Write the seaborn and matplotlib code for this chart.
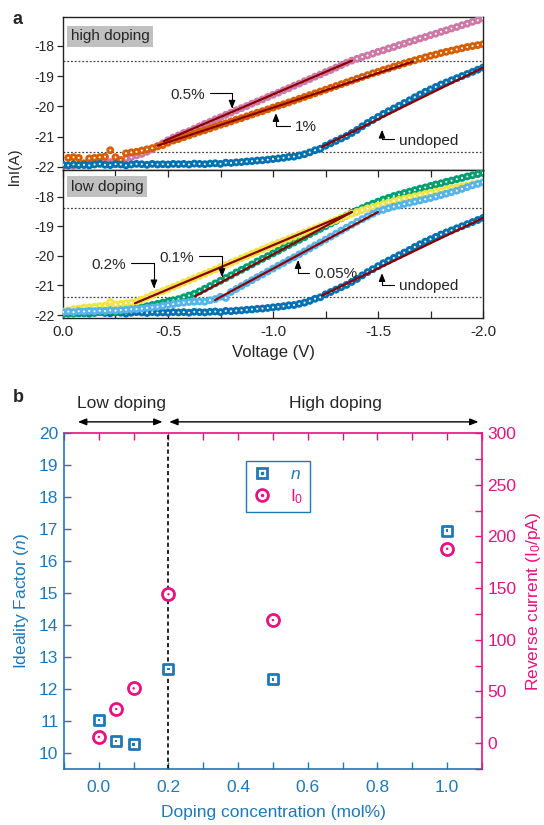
import numpy as np
import pandas as pd
import matplotlib
matplotlib.use('Agg')
import matplotlib.pyplot as plt
import seaborn as sns
from matplotlib.lines import Line2D
from matplotlib.ticker import MultipleLocator

# Styling first, fonts after (set_style resets the family)
sns.set_style('ticks')
plt.rcParams['font.family'] = ['Liberation Sans', 'DejaVu Sans']
plt.rcParams['mathtext.fontset'] = 'custom'
plt.rcParams['mathtext.rm'] = 'Liberation Sans'
plt.rcParams['mathtext.it'] = 'Liberation Sans:italic'
plt.rcParams['axes.unicode_minus'] = False

## DATA ##

# Voltage sweep (V)
voltage = [0.0, -0.025, -0.05, -0.075, -0.1, -0.125, -0.15, -0.175, -0.2, -0.225,
           -0.25, -0.275, -0.3, -0.325, -0.35, -0.375, -0.4, -0.425, -0.45, -0.475,
           -0.5, -0.525, -0.55, -0.575, -0.6, -0.625, -0.65, -0.675, -0.7, -0.725,
           -0.75, -0.775, -0.8, -0.825, -0.85, -0.875, -0.9, -0.925, -0.95, -0.975,
           -1.0, -1.025, -1.05, -1.075, -1.1, -1.125, -1.15, -1.175, -1.2, -1.225,
           -1.25, -1.275, -1.3, -1.325, -1.35, -1.375, -1.4, -1.425, -1.45, -1.475,
           -1.5, -1.525, -1.55, -1.575, -1.6, -1.625, -1.65, -1.675, -1.7, -1.725,
           -1.75, -1.775, -1.8, -1.825, -1.85, -1.875, -1.9, -1.925, -1.95, -1.975,
           -2.0]

# lnI(A) for each sample
lnI_undoped = [-21.93, -21.95, -21.92, -21.94, -21.93, -21.95, -21.92, -21.90, -21.93, -21.94,
               -21.91, -21.92, -21.95, -21.92, -21.90, -21.91, -21.93, -21.90, -21.92, -21.91,
               -21.92, -21.90, -21.91, -21.90, -21.92, -21.89, -21.90, -21.91, -21.89, -21.88,
               -21.90, -21.86, -21.87, -21.85, -21.84, -21.82, -21.81, -21.79, -21.78, -21.76,
               -21.74, -21.72, -21.70, -21.67, -21.66, -21.62, -21.58, -21.52, -21.45, -21.40,
               -21.30, -21.22, -21.14, -21.06, -20.98, -20.88, -20.78, -20.66, -20.55, -20.45,
               -20.35, -20.25, -20.16, -20.07, -19.98, -19.89, -19.80, -19.70, -19.61, -19.52,
               -19.44, -19.36, -19.28, -19.21, -19.14, -19.07, -19.00, -18.93, -18.86, -18.79,
               -18.72]

lnI_05 = [-21.97, -21.95, -21.96, -21.93, -21.94, -21.91, -21.90, -21.88, -21.86, -21.84,
          -21.80, -21.77, -21.72, -21.68, -21.62, -21.57, -21.50, -21.42, -21.32, -21.22,
          -21.12, -21.03, -20.96, -20.88, -20.82, -20.74, -20.66, -20.58, -20.51, -20.43,
          -20.36, -20.28, -20.21, -20.13, -20.06, -19.99, -19.91, -19.84, -19.77, -19.69,
          -19.62, -19.55, -19.47, -19.40, -19.32, -19.25, -19.17, -19.10, -19.02, -18.95,
          -18.87, -18.80, -18.72, -18.64, -18.56, -18.49, -18.43, -18.37, -18.32, -18.26,
          -18.20, -18.15, -18.09, -18.04, -17.98, -17.93, -17.87, -17.82, -17.76, -17.71,
          -17.65, -17.60, -17.54, -17.49, -17.43, -17.38, -17.32, -17.27, -17.21, -17.16,
          -17.10]

lnI_1 = [-21.95, -21.70, -21.68, -21.70, -21.88, -21.72, -21.70, -21.68, -21.66, -21.45,
         -21.68, -21.78, -21.55, -21.52, -21.50, -21.46, -21.42, -21.38, -21.32, -21.28,
         -21.20, -21.13, -21.08, -21.02, -20.96, -20.90, -20.84, -20.79, -20.73, -20.67,
         -20.61, -20.56, -20.50, -20.44, -20.39, -20.33, -20.27, -20.21, -20.16, -20.10,
         -20.04, -19.98, -19.93, -19.87, -19.81, -19.75, -19.69, -19.63, -19.57, -19.51,
         -19.45, -19.39, -19.33, -19.27, -19.21, -19.15, -19.09, -19.03, -18.97, -18.91,
         -18.86, -18.80, -18.75, -18.69, -18.64, -18.58, -18.53, -18.48, -18.43, -18.38,
         -18.33, -18.29, -18.24, -18.20, -18.16, -18.12, -18.08, -18.04, -18.01, -17.98,
         -17.95]

lnI_005 = [-21.90, -21.88, -21.90, -21.87, -21.88, -21.86, -21.87, -21.85, -21.86, -21.84,
           -21.85, -21.83, -21.82, -21.80, -21.80, -21.78, -21.76, -21.74, -21.72, -21.69,
           -21.66, -21.63, -21.60, -21.58, -21.56, -21.55, -21.54, -21.55, -21.50, -21.46,
           -21.38, -21.42, -21.22, -21.12, -21.02, -20.92, -20.82, -20.72, -20.63, -20.53,
           -20.43, -20.33, -20.24, -20.14, -20.05, -19.95, -19.85, -19.75, -19.65, -19.55,
           -19.45, -19.35, -19.25, -19.15, -19.05, -18.95, -18.85, -18.76, -18.67, -18.58,
           -18.50, -18.45, -18.39, -18.34, -18.30, -18.25, -18.21, -18.17, -18.13, -18.09,
           -18.05, -18.00, -17.95, -17.90, -17.85, -17.80, -17.74, -17.68, -17.62, -17.57,
           -17.52]

lnI_01 = [-21.96, -21.94, -21.95, -21.93, -21.94, -21.92, -21.93, -21.90, -21.90, -21.84,
          -21.88, -21.86, -21.84, -21.81, -21.78, -21.74, -21.70, -21.66, -21.62, -21.58,
          -21.54, -21.50, -21.46, -21.40, -21.34, -21.28, -21.20, -21.11, -21.02, -20.93,
          -20.84, -20.75, -20.66, -20.56, -20.47, -20.38, -20.29, -20.19, -20.10, -20.01,
          -19.92, -19.83, -19.73, -19.64, -19.55, -19.46, -19.37, -19.27, -19.18, -19.09,
          -19.00, -18.91, -18.82, -18.73, -18.64, -18.55, -18.47, -18.39, -18.31, -18.24,
          -18.17, -18.10, -18.04, -17.98, -17.93, -17.88, -17.83, -17.78, -17.73, -17.69,
          -17.64, -17.59, -17.55, -17.50, -17.46, -17.41, -17.37, -17.32, -17.28, -17.24,
          -17.20]

lnI_02 = [-21.88, -21.84, -21.80, -21.78, -21.75, -21.74, -21.72, -21.70, -21.68, -21.56,
          -21.64, -21.62, -21.60, -21.58, -21.55, -21.48, -21.40, -21.32, -21.25, -21.19,
          -21.12, -21.05, -20.98, -20.90, -20.83, -20.76, -20.68, -20.61, -20.53, -20.46,
          -20.38, -20.31, -20.23, -20.16, -20.08, -20.01, -19.93, -19.86, -19.78, -19.71,
          -19.63, -19.56, -19.49, -19.42, -19.35, -19.28, -19.21, -19.14, -19.07, -19.00,
          -18.93, -18.86, -18.79, -18.72, -18.65, -18.58, -18.52, -18.46, -18.40, -18.35,
          -18.30, -18.25, -18.20, -18.15, -18.11, -18.07, -18.03, -17.99, -17.95, -17.91,
          -17.87, -17.83, -17.80, -17.76, -17.72, -17.69, -17.65, -17.62, -17.58, -17.55,
          -17.52]

# Linear fits: (start V, end V), (start lnI, end lnI)
fit_undoped_v, fit_undoped_y = [-1.233, -2.0], [-21.34, -18.72]
fit_05_v, fit_05_y = [-0.48, -1.376], [-21.15, -18.49]
fit_1_v, fit_1_y = [-0.45, -1.667], [-21.30, -18.52]
fit_005_v, fit_005_y = [-0.724, -1.5], [-21.49, -18.52]
fit_01_v, fit_01_y = [-0.63, -1.376], [-21.36, -18.52]
fit_02_v, fit_02_y = [-0.343, -1.376], [-21.60, -18.52]

# Dotted guide levels
guides_high = [-18.5, -21.5]
guides_low = [-18.4, -21.4]

# Panel b
doping = [0.0, 0.05, 0.1, 0.2, 0.5, 1.0]
ideality_n = [11.03, 10.37, 10.27, 12.62, 12.3, 16.95]
reverse_I0 = [6, 33, 53, 144, 119, 188]

# Colours
c_undoped = '#0072b2'
c_05 = '#cc79a7'
c_1 = '#d55e00'
c_005 = '#56b4e9'
c_01 = '#009e73'
c_02 = '#f0e442'
c_fit = '#8b0000'
blue = '#1f78b8'
pink = '#e6127f'

fig = plt.figure(figsize=(5.44, 8.25), dpi=100)
ax_hi = fig.add_axes([0.1158, 0.7940, 0.7721, 0.1854])
ax_lo = fig.add_axes([0.1158, 0.6145, 0.7721, 0.1795])
ax_b = fig.add_axes([0.1176, 0.0679, 0.7684, 0.4073])


def draw_curve(ax, y, colour):
    # coloured disc with a small white centre, like the open circles of the original
    sns.scatterplot(x=voltage, y=y, ax=ax, color=colour, s=32, edgecolor='none', zorder=3)
    sns.scatterplot(x=voltage, y=y, ax=ax, color='white', s=2.2, edgecolor='none', zorder=3)


def draw_fit(ax, v, y):
    sns.lineplot(x=v, y=y, ax=ax, color=c_fit, lw=1.6, zorder=4)


## PANEL a (high doping) ##
draw_curve(ax_hi, lnI_05, c_05)
draw_curve(ax_hi, lnI_1, c_1)
draw_curve(ax_hi, lnI_undoped, c_undoped)
draw_fit(ax_hi, fit_05_v, fit_05_y)
draw_fit(ax_hi, fit_1_v, fit_1_y)
draw_fit(ax_hi, fit_undoped_v, fit_undoped_y)
for g in guides_high:
    ax_hi.axhline(g, ls=(0, (1.5, 1.5)), color='#444444', lw=0.9, zorder=1)

## PANEL a (low doping) ##
draw_curve(ax_lo, lnI_undoped, c_undoped)
draw_curve(ax_lo, lnI_01, c_01)
draw_curve(ax_lo, lnI_02, c_02)
draw_curve(ax_lo, lnI_005, c_005)
draw_fit(ax_lo, fit_005_v, fit_005_y)
draw_fit(ax_lo, fit_01_v, fit_01_y)
draw_fit(ax_lo, fit_02_v, fit_02_y)
draw_fit(ax_lo, fit_undoped_v, fit_undoped_y)
for g in guides_low:
    ax_lo.axhline(g, ls=(0, (1.5, 1.5)), color='#444444', lw=0.9, zorder=1)

for ax in (ax_hi, ax_lo):
    ax.set_xlim(0, -2)
    ax.set_ylabel('')
    ax.set_xlabel('')
    ax.yaxis.set_major_locator(MultipleLocator(1))
    ax.tick_params(axis='y', direction='out', length=4, width=0.9, labelsize=10, pad=2)
    for s in ax.spines.values():
        s.set_color('#222222')
        s.set_linewidth(1.0)
        s.set_visible(True)

ax_hi.set_ylim(-22.1, -17.05)
ax_lo.set_ylim(-22.1, -17.1)
ax_hi.set_xticks([])
ax_hi.tick_params(axis='x', bottom=False, labelbottom=False)

ax_lo.xaxis.set_major_locator(MultipleLocator(0.5))
ax_lo.xaxis.set_minor_locator(MultipleLocator(0.25))
ax_lo.xaxis.set_major_formatter(matplotlib.ticker.FormatStrFormatter('%.1f'))
ax_lo.tick_params(axis='x', which='both', direction='in', top=True, length=5, width=0.9,
                  labelsize=11, pad=5)
ax_lo.set_xlabel('Voltage (V)', fontsize=12, labelpad=4)

ax_hi.text(0.018, 0.875, 'high doping', transform=ax_hi.transAxes, fontsize=11,
           va='center', ha='left', bbox=dict(facecolor='#c0c0c0', edgecolor='none', pad=2.5))
ax_lo.text(0.018, 0.885, 'low doping', transform=ax_lo.transAxes, fontsize=11,
           va='center', ha='left', bbox=dict(facecolor='#c0c0c0', edgecolor='none', pad=2.5))

arrow_kw = dict(arrowstyle='-|>,head_length=0.45,head_width=0.18', color='black', lw=0.8,
                connectionstyle='angle,angleA=0,angleB=90,rad=0', shrinkA=1, shrinkB=0)


def label_curve(ax, text, tip, text_pos, side):
    ha = 'right' if side == 'left' else 'left'
    rel = (1, 0.65) if side == 'left' else (0, 0.6)
    ax.annotate(text, xy=tip, xytext=text_pos, ha=ha, va='center', fontsize=11,
                arrowprops=dict(arrow_kw, relpos=rel), zorder=6)


label_curve(ax_hi, '0.5%', (-0.805, -20.08), (-0.676, -19.62), 'left')
label_curve(ax_hi, '1%', (-1.014, -20.22), (-1.105, -20.68), 'right')
label_curve(ax_hi, 'undoped', (-1.519, -20.77), (-1.6, -21.14), 'right')
label_curve(ax_lo, '0.2%', (-0.433, -21.1), (-0.3, -20.31), 'left')
label_curve(ax_lo, '0.1%', (-0.757, -20.72), (-0.624, -20.07), 'left')
label_curve(ax_lo, '0.05%', (-1.119, -20.14), (-1.195, -20.61), 'right')
label_curve(ax_lo, 'undoped', (-1.519, -20.58), (-1.6, -21.02), 'right')

fig.text(0.028, 1 - 167 / 825, 'lnI(A)', rotation=90, va='center', ha='center', fontsize=11)
fig.text(0.033, 1 - 20 / 825, 'a', fontsize=13, fontweight='bold', va='center', ha='center')
fig.text(0.033, 1 - 398 / 825, 'b', fontsize=13, fontweight='bold', va='center', ha='center')

## PANEL b ##
ax_r = ax_b.twinx()
ax_b.axvline(0.2, color='black', ls=(0, (2.5, 1.8)), lw=1.2, zorder=1)

sns.scatterplot(x=doping, y=ideality_n, ax=ax_b, marker='s', s=48, facecolor='white',
                edgecolor=blue, linewidth=2.0, zorder=3)
sns.scatterplot(x=doping, y=ideality_n, ax=ax_b, marker='s', s=3, color=blue,
                edgecolor='none', zorder=4)
sns.scatterplot(x=doping, y=reverse_I0, ax=ax_r, marker='o', s=75, facecolor='white',
                edgecolor=pink, linewidth=2.0, zorder=3)
sns.scatterplot(x=doping, y=reverse_I0, ax=ax_r, marker='o', s=3, color=pink,
                edgecolor='none', zorder=4)

ax_b.set_xlim(-0.1, 1.1)
ax_b.set_ylim(9.5, 20)
ax_r.set_ylim(-25, 300)

ax_b.xaxis.set_major_locator(MultipleLocator(0.2))
ax_b.xaxis.set_minor_locator(MultipleLocator(0.1))
ax_b.xaxis.set_major_formatter(matplotlib.ticker.FormatStrFormatter('%.1f'))
ax_b.yaxis.set_major_locator(MultipleLocator(1))
ax_r.yaxis.set_major_locator(MultipleLocator(50))
ax_r.yaxis.set_minor_locator(MultipleLocator(25))

ax_b.tick_params(axis='x', which='both', direction='in', length=5, width=1, colors=blue,
                 labelsize=12.5, pad=8)
ax_b.tick_params(axis='y', which='both', direction='in', length=5, width=1, colors=blue,
                 labelsize=12.5, pad=4)
ax_r.tick_params(axis='y', which='both', direction='in', length=5, width=1, colors=pink,
                 labelsize=12.5, pad=4)

top = ax_b.secondary_xaxis('top')
top.xaxis.set_major_locator(MultipleLocator(0.1))
top.tick_params(direction='in', length=5, width=1, color=pink, labeltop=False)
top.spines['top'].set_color(pink)
top.spines['top'].set_linewidth(1.2)

for s in ('left', 'bottom'):
    ax_b.spines[s].set_color(blue)
    ax_b.spines[s].set_linewidth(1.2)
ax_b.spines['top'].set_visible(False)
ax_r.spines['right'].set_color(pink)
ax_r.spines['right'].set_linewidth(1.2)
ax_r.spines['left'].set_visible(False)
ax_r.spines['bottom'].set_visible(False)
ax_r.spines['top'].set_visible(False)
ax_b.spines['right'].set_visible(False)

ax_b.set_xlabel('Doping concentration (mol%)', color=blue, fontsize=12.5, labelpad=7)
ax_b.set_ylabel('Ideality Factor ($n$)', color=blue, fontsize=12.5, labelpad=6)
ax_r.set_ylabel('Reverse current (I$_0$/pA)', color=pink, fontsize=12.5, labelpad=5)

# Doping-range arrows above the plot
trans = ('data', 'axes fraction')
ax_b.annotate('', xy=(-0.06, 1.033), xytext=(0.183, 1.033), xycoords=trans, textcoords=trans,
              arrowprops=dict(arrowstyle='<|-|>,head_length=0.5,head_width=0.2', color='black',
                              lw=1, shrinkA=0, shrinkB=0))
ax_b.annotate('', xy=(0.202, 1.033), xytext=(1.09, 1.033), xycoords=trans, textcoords=trans,
              arrowprops=dict(arrowstyle='<|-|>,head_length=0.5,head_width=0.2', color='black',
                              lw=1, shrinkA=0, shrinkB=0))
ax_b.text(0.066, 1.088, 'Low doping', transform=ax_b.get_xaxis_transform(), ha='center',
          va='center', fontsize=12.5)
ax_b.text(0.68, 1.088, 'High doping', transform=ax_b.get_xaxis_transform(), ha='center',
          va='center', fontsize=12.5)

# Legend with dotted square / circle markers
h_n = (Line2D([], [], marker='s', ls='', ms=7, mfc='white', mec=blue, mew=2.0),
       Line2D([], [], marker='s', ls='', ms=1.5, color=blue))
h_i = (Line2D([], [], marker='o', ls='', ms=8.5, mfc='white', mec=pink, mew=2.0),
       Line2D([], [], marker='o', ls='', ms=1.5, color=pink))
leg = ax_b.legend([h_n, h_i], ['$n$', 'I$_0$'], loc='upper left', bbox_to_anchor=(0.435, 0.917),
                  borderaxespad=0, fancybox=False, edgecolor=blue, framealpha=1,
                  fontsize=12.5, handlelength=1.2, handletextpad=1.0, borderpad=0.35,
                  labelspacing=0.3)
leg.get_frame().set_linewidth(1.0)
leg.get_texts()[0].set_color(blue)
leg.get_texts()[1].set_color(pink)
if ax_r.get_legend() is not None:
    ax_r.get_legend().remove()

fig.savefig('out.png', dpi=100)
